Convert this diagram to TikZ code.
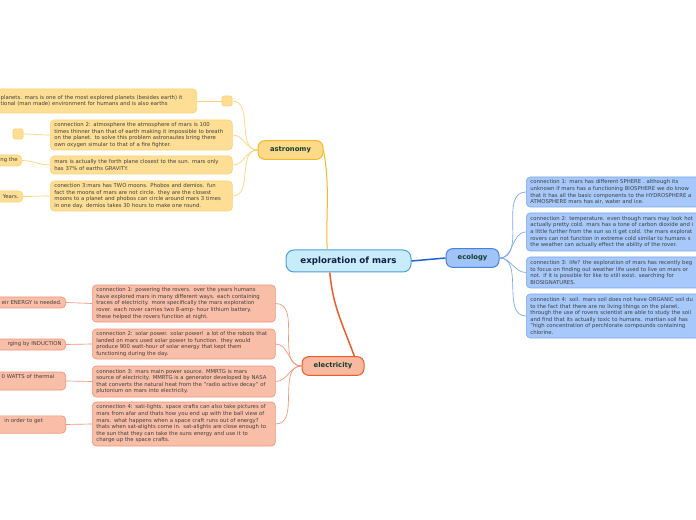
\documentclass[tikz,border=0pt]{standalone}
\usepackage{fontspec}
\setmainfont{DejaVu Sans}
\usepackage{tikz}
\usetikzlibrary{positioning}
\definecolor{mapfill}{RGB}{201,236,252}
\definecolor{mapline}{RGB}{74,160,220}
\definecolor{astrofill}{RGB}{253,217,138}
\definecolor{astroline}{RGB}{245,185,40}
\definecolor{astrosub}{RGB}{254,222,148}
\definecolor{astrosubline}{RGB}{251,212,115}
\definecolor{ecofill}{RGB}{160,196,248}
\definecolor{ecoline}{RGB}{30,96,210}
\definecolor{ecosub}{RGB}{166,200,250}
\definecolor{ecosubline}{RGB}{122,168,238}
\definecolor{elecfill}{RGB}{249,185,160}
\definecolor{elecline}{RGB}{240,90,40}
\definecolor{elecsub}{RGB}{249,190,168}
\definecolor{elecsubline}{RGB}{243,150,120}
\definecolor{titletext}{RGB}{16,32,64}
\definecolor{topictext}{RGB}{20,60,50}
\newcommand{\leaftext}{\fontsize{4.0}{4.95}\selectfont}
\tikzset{
  centernode/.style = {draw=mapline, fill=mapfill, line width=0.75pt,
                       rounded corners=6pt, minimum width=93.75pt,
                       minimum height=16.5pt, text=titletext,
                       font=\fontsize{6.5}{7.5}\selectfont\bfseries},
  topicnode/.style  = {line width=0.75pt, rounded corners=5pt,
                       minimum height=14pt, text=topictext,
                       font=\fontsize{5.1}{6}\selectfont\bfseries},
  leafnode/.style   = {line width=0.5pt, rounded corners=3pt, inner xsep=3pt,
                       inner ysep=1.5pt, text=black!75, align=left,
                       font=\leaftext},
  knotnode/.style   = {line width=0.5pt, rounded corners=1.5pt,
                       minimum width=7.5pt, minimum height=7.5pt, inner sep=0pt},
  astroleaf/.style  = {leafnode, draw=astrosubline, fill=astrosub},
  ecoleaf/.style    = {leafnode, draw=ecosubline, fill=ecosub},
  elecleaf/.style   = {leafnode, draw=elecsubline, fill=elecsub},
  astrolink/.style  = {astrosubline, line width=0.5pt},
  ecolink/.style    = {ecosubline, line width=0.5pt},
  eleclink/.style   = {elecsubline, line width=0.5pt},
}

\begin{document}
\begin{tikzpicture}[x=0.75pt, y=-0.75pt]

    \useasboundingbox (0,0) rectangle (696,520);
    \clip (0,0) rectangle (696,520);
    \fill[white] (0,0) rectangle (696,520);

    % --- central topic -----------------------------------------------------
    \node[centernode] (mars) at (348.5,261) {exploration of mars};

    % --- main topics -------------------------------------------------------
    \node[topicnode, draw=astroline, fill=astrofill, minimum width=48.75pt]
      (astro) at (290.5,150) {astronomy};
    \node[topicnode, draw=ecoline!80, fill=ecofill, minimum width=39.75pt]
      (eco) at (472.5,258) {ecology};
    \node[topicnode, draw=elecline, fill=elecfill, minimum width=46.5pt]
      (elec) at (333,366) {electricity};

    \draw[astroline, line width=0.75pt] (astro.east) to[out=-80, in=92]
      ([xshift=-16pt]mars.north);
    \draw[ecoline, line width=1.1pt] (mars.east) -- (eco.west);
    \draw[elecline, line width=1.1pt] ([xshift=-14pt]mars.south) to[out=-85, in=110]
      ([xshift=16pt]elec.north);

    % --- astronomy ---------------------------------------------------------
    \node[astroleaf, minimum width=150pt, minimum height=18pt,
          text width=144pt, anchor=east] (astroA) at (197,101)
      {planets. mars is one of the most explored planets (besides earth) it\\
       tional (man made) environment for humans and is also earths};
    \node[knotnode, draw=astrosubline, fill=astrosub] (astroAk) at (227,101) {};
    \node[astroleaf, minimum width=136.5pt, minimum height=22.5pt,
          text width=130.5pt, anchor=west] (astroB) at (50,135)
      {connection 2: atmosphere the atmosphere of mars is 100\\
       times thinner than that of earth making it impossible to breath\\
       on the planet. to solve this problem astronautes bring there\\
       own oxygen simular to that of a fire fighter.};
    \node[knotnode, draw=astrosubline, fill=astrosub] (astroBk) at (18,134) {};
    \node[astroleaf, minimum width=136.5pt, minimum height=13.5pt,
          text width=130.5pt, anchor=west] (astroC) at (50,165)
      {mars is actually the forth plane closest to the sun. mars only\\
       has 37\% of earths GRAVITY.};
    \node[astroleaf, minimum width=45pt, minimum height=8.25pt,
          text width=39pt, align=right, anchor=east] (astroCk) at (22,160.5)
      {ng the};
    \node[astroleaf, minimum width=136.5pt, minimum height=22.5pt,
          text width=130.5pt, anchor=west] (astroD) at (50,196)
      {conection 3:mars has TWO moons. Phobos and demios. fun\\
       fact the moons of mars are not circle. they are the closest\\
       moons to a planet and phobos can circle around mars 3 times\\
       in one day. demios takes 30 hours to make one round.};
    \node[astroleaf, minimum width=45pt, minimum height=8.25pt,
          text width=39pt, align=right, anchor=east] (astroDk) at (23,196.5)
      {Years.};

    \draw[astrolink] (astro.west) to[out=180, in=0] (astroAk.east);
    \draw[astrolink] (astro.west) to[out=180, in=0] (astroB.east);
    \draw[astrolink] (astro.west) to[out=180, in=0] (astroC.east);
    \draw[astrolink] (astro.west) to[out=180, in=0] (astroD.east);
    \draw[astrolink] (astroAk.west) -- (astroA.east);
    \draw[astrolink] (astroB.west) to[out=180, in=0] (astroBk.east);
    \draw[astrolink] (astroC.west) to[out=180, in=0] (astroCk.east);
    \draw[astrolink] (astroD.west) to[out=180, in=0] (astroDk.east);

    % --- ecology -----------------------------------------------------------
    \node[ecoleaf, minimum width=135pt, minimum height=22.5pt,
          text width=140pt, anchor=west] (ecoA) at (526,192)
      {connection 1: mars has different SPHERE . although its\\
       unknown if mars has a functioning BIOSPHERE we do know\\
       that it has all the basic components to the HYDROSPHERE a\\
       ATMOSPHERE mars has air, water and ice.};
    \node[ecoleaf, minimum width=135pt, minimum height=28.5pt,
          text width=140pt, anchor=west] (ecoB) at (526,232)
      {connection 2: temperature. even though mars may look hot\\
       actually pretty cold. mars has a tone of carbon dioxide and i\\
       a little further from the sun so it get cold. the mars explorat\\
       rovers can not function in extreme cold similar to humans s\\
       the weather can actually effect the ability of the rover.};
    \node[ecoleaf, minimum width=135pt, minimum height=23.25pt,
          text width=140pt, anchor=west] (ecoC) at (526,272.5)
      {connection 3: life? the exploration of mars has recently beg\\
       to focus on finding out weather life used to live on mars or\\
       not. if it is possible for like to still exist. searching for\\
       BIOSIGNATURES.};
    \node[ecoleaf, minimum width=135pt, minimum height=33pt,
          text width=140pt, anchor=west] (ecoD) at (526,316)
      {connection 4: soil. mars soil does not have ORGANIC soil du\\
       to the fact that there are no living things on the planet.\\
       through the use of rovers scientist are able to study the soil\\
       and find that its actually toxic to humans. martian soil has\\
       "high concentration of perchlorate compounds containing\\
       chlorine.};

    \foreach \leaf in {ecoA, ecoB, ecoC, ecoD}
      \draw[ecolink] (eco.east) to[out=0, in=180] (\leaf.west);

    % --- electricity -------------------------------------------------------
    \node[elecleaf, minimum width=137.25pt, minimum height=27.75pt,
          text width=131.25pt, anchor=west] (elecA) at (92,303.5)
      {connection 1: powering the rovers. over the years humans\\
       have explored mars in many different ways. each containing\\
       traces of electricity. more specifically the mars exploration\\
       rover. each rover carries two 8-amp- hour lithium battery.\\
       these helped the rovers function at night.};
    \node[elecleaf, minimum width=90pt, minimum height=8.25pt,
          text width=84pt, align=right, anchor=east] (elecAk) at (66,302.5)
      {eir ENERGY is needed.};
    \node[elecleaf, minimum width=137.25pt, minimum height=22.5pt,
          text width=131.25pt, anchor=west] (elecB) at (92,344)
      {connection 2: solar power. solar power! a lot of the robots that\\
       landed on mars used solar power to function. they would\\
       produce 900 watt-hour of solar energy that kept them\\
       functioning during the day.};
    \node[elecleaf, minimum width=90pt, minimum height=8.25pt,
          text width=84pt, align=right, anchor=east] (elecBk) at (66,344.5)
      {rging by INDUCTION};
    \node[elecleaf, minimum width=137.25pt, minimum height=23.25pt,
          text width=131.25pt, anchor=west] (elecC) at (92,381.5)
      {connection 3: mars main power source.  MMRTG is mars\\
       source of electricity. MMRTG is a generator developed by NASA\\
       that converts the natural heat from the "radio active decay" of\\
       plutonium on mars into electricity.};
    \node[elecleaf, minimum width=90pt, minimum height=13.5pt,
          text width=84pt, align=left, anchor=east] (elecCk) at (66,381)
      {\hspace*{39pt}0 WATTS of thermal\\ \strut};
    \node[elecleaf, minimum width=137.25pt, minimum height=33pt,
          text width=131.25pt, anchor=west] (elecD) at (92,424)
      {connection 4: sati-lights. space crafts can also take pictures of\\
       mars from afar and thats how you end up with the ball view of\\
       mars. what happens when a space craft runs out of energy?\\
       thats when sat-alights come in. sat-alights are close enough to\\
       the sun that they can take the suns energy and use it to\\
       charge up the space crafts.};
    \node[elecleaf, minimum width=90pt, minimum height=13pt,
          text width=84pt, align=left, anchor=east] (elecDk) at (66,424.5)
      {\hspace*{41pt}in order to get\\ \strut};

    \foreach \leaf in {elecA, elecB, elecC, elecD}
      \draw[eleclink] (elec.west) to[out=180, in=0] (\leaf.east);
    \draw[eleclink] (elecA.west) -- (elecAk.east);
    \draw[eleclink] (elecB.west) -- (elecBk.east);
    \draw[eleclink] (elecC.west) -- (elecCk.east);
    \draw[eleclink] (elecD.west) -- (elecDk.east);

  \end{tikzpicture}
\end{document}
